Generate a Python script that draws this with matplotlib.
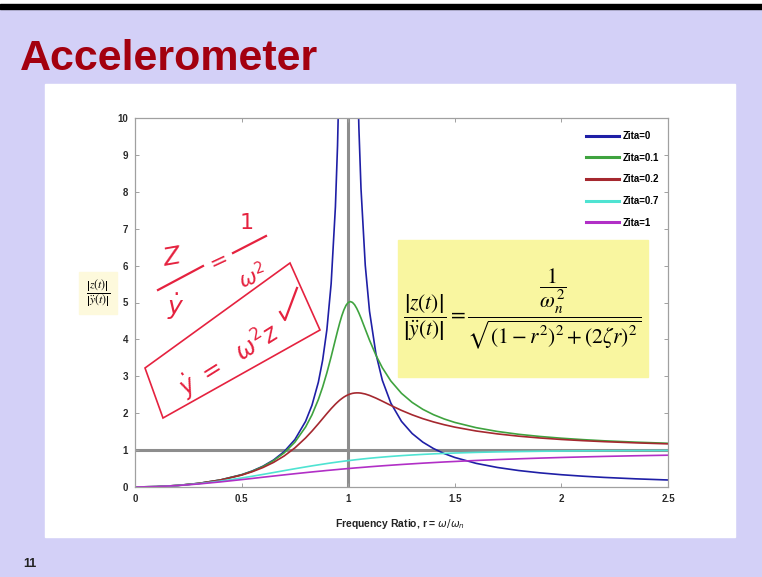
import numpy as np
import matplotlib
matplotlib.use('Agg')
import matplotlib.pyplot as plt
from matplotlib.patches import Rectangle, Polygon
from matplotlib.lines import Line2D

# ---------------- data ----------------
freq_ratio = [0, 0.1, 0.2, 0.3, 0.4, 0.5, 0.55, 0.6, 0.65, 0.7, 0.75, 0.8, 0.83, 0.86,
              0.88, 0.9, 0.92, 0.94, 0.95, 0.96, 0.97, 0.98, 0.99, 1.0, 1.01, 1.02,
              1.03, 1.04, 1.05, 1.06, 1.08, 1.1, 1.13, 1.16, 1.2, 1.25, 1.3, 1.35,
              1.4, 1.45, 1.5, 1.6, 1.7, 1.8, 1.9, 2.0, 2.1, 2.2, 2.35, 2.5]
zita_0 = [0, .010, .042, .099, .190, .333, .434, .563, .732, .961, 1.286, 1.778,
          2.214, 2.840, 3.433, 4.263, 5.510, 7.591, 9.256, 11.755, 15.92, 24.25, 49.25,
          float('nan'), 49.75, 24.75, 16.42, 12.255, 9.756, 8.091, 6.010, 4.762, 3.611,
          2.894, 2.273, 1.778, 1.449, 1.216, 1.042, .907, .800, .641, .529, .446, .383,
          .333, .293, .260, .221, .190]
zita_01 = [0, .010, .042, .099, .190, .330, .428, .553, .714, .927, 1.216, 1.625,
           1.954, 2.370, 2.706, 3.095, 3.531, 3.996, 4.226, 4.444, 4.639, 4.802, 4.925,
           5.000, 5.025, 5.002, 4.939, 4.841, 4.718, 4.579, 4.278, 3.979, 3.573, 3.233,
           2.873, 2.538, 2.292, 2.105, 1.960, 1.844, 1.750, 1.608, 1.505, 1.428, 1.369,
           1.322, 1.284, 1.252, 1.215, 1.185]
zita_02 = [0, .010, .042, .098, .187, .322, .414, .527, .667, .842, 1.060, 1.329,
           1.514, 1.714, 1.852, 1.990, 2.123, 2.245, 2.300, 2.352, 2.397, 2.438, 2.472,
           2.500, 2.522, 2.538, 2.547, 2.551, 2.550, 2.544, 2.520, 2.482, 2.409, 2.326,
           2.211, 2.076, 1.956, 1.852, 1.764, 1.688, 1.623, 1.518, 1.439, 1.377, 1.328,
           1.288, 1.256, 1.229, 1.196, 1.169]
zita_07 = [0, .010, .040, .090, .159, .244, .291, .341, .392, .444, .495, .544,
           .573, .600, .618, .636, .653, .669, .677, .685, .692, .700, .707,
           .714, .721, .728, .735, .742, .748, .755, .767, .779, .795, .810,
           .829, .850, .868, .884, .898, .910, .921, .938, .951, .961, .969,
           .975, .980, .983, .988, .991]
zita_1 = [0, .010, .039, .083, .138, .200, .232, .265, .297, .329, .360, .390,
          .408, .425, .436, .448, .458, .469, .474, .480, .485, .490, .495,
          .500, .505, .510, .515, .520, .524, .529, .538, .548, .561, .574,
          .590, .610, .628, .646, .662, .678, .692, .719, .743, .764, .783,
          .800, .815, .829, .847, .862]
series_labels = ['Zita=0', 'Zita=0.1', 'Zita=0.2', 'Zita=0.7', 'Zita=1']
series_colors = ['#1f1fa6', '#3fa33f', '#a5282f', '#4fe3d2', '#b12fc6']
x_ticks = [0, 0.5, 1, 1.5, 2, 2.5]
x_ticklabels = ['0', '0.5', '1', '1.5', '2', '2.5']
y_ticks = [0, 1, 2, 3, 4, 5, 6, 7, 8, 9, 10]

# ---------------- layout helpers ----------------
W, H = 762, 577
def fx(x):
    return x / W
def fy(y):
    return 1 - y / H

fig = plt.figure(figsize=(W / 100, H / 100), dpi=100)
fig.patch.set_facecolor('#d3d0f7')

fig.add_artist(Rectangle((0, fy(4)), 1, 4 / H, transform=fig.transFigure,
                         color='white', zorder=0))
fig.add_artist(Rectangle((0, fy(9)), 1, 5 / H, transform=fig.transFigure,
                         color='black', zorder=0))
fig.add_artist(Rectangle((fx(45), fy(537)), fx(735) - fx(45), (537 - 84) / H,
                         transform=fig.transFigure, color='white', zorder=0))

narrow = ['Liberation Sans Narrow', 'Liberation Sans', 'DejaVu Sans']
fig.text(fx(20), fy(70), 'Accelerometer', fontsize=31, fontweight='bold',
         color='#a3000f', family=narrow, va='baseline', ha='left')

# ---------------- axes ----------------
ax = fig.add_axes([fx(135), fy(487), 533 / W, 369 / H])
ax.set_facecolor('white')
ax.axhline(1, color='#8d8d8d', lw=2.2, zorder=1)
ax.axvline(1, color='#8d8d8d', lw=2.2, zorder=1)
for vals, lab, col in zip([zita_0, zita_01, zita_02, zita_07, zita_1],
                          series_labels, series_colors):
    ax.plot(freq_ratio, vals, color=col, lw=1.2, label=lab, zorder=2)
ax.set_xlim(0, 2.5)
ax.set_ylim(0, 10)
ax.set_xticks(x_ticks)
ax.set_xticklabels(x_ticklabels)
ax.set_yticks(y_ticks)
for s in ax.spines.values():
    s.set_color('#a0a0a0')
    s.set_linewidth(0.9)
ax.tick_params(direction='in', length=3, width=0.7, color='#a0a0a0',
               top=True, right=True, labelsize=7, labelcolor='#2a2a2a', pad=5)
for t in ax.get_xticklabels() + ax.get_yticklabels():
    t.set_fontweight('bold')
    t.set_family(narrow)

leg = ax.legend(loc='upper left', bbox_to_anchor=(fx(586), fy(131)),
                bbox_transform=fig.transFigure, frameon=False, fontsize=7,
                handlelength=3.4, handletextpad=0.4, labelspacing=1.2,
                borderaxespad=0, borderpad=0)
for t in leg.get_texts():
    t.set_fontweight('bold')
    t.set_family(narrow)
for l in leg.get_lines():
    l.set_linewidth(2.2)

fig.text(fx(400), fy(527), r'Frequency Ratio, r = $\omega/\omega_n$', fontsize=7.5,
         fontweight='bold', family=narrow, ha='center', va='baseline', color='#222222')

# y label box
fig.add_artist(Rectangle((fx(79), fy(314)), 38 / W, 42 / H, transform=fig.transFigure,
                         color='#fdf9dc', zorder=1))
fig.text(fx(98), fy(293), r'$\dfrac{\left|z(t)\right|}{\left|\ddot{y}(t)\right|}$',
         fontsize=8.5, math_fontfamily='stix', ha='center', va='center', zorder=3)

# formula box
fig.add_artist(Rectangle((fx(398), fy(377)), 250 / W, 137 / H, transform=fig.transFigure,
                         color='#f9f6a0', zorder=3))
fig.text(fx(522), fy(309),
         r'$\dfrac{\left|z(t)\right|}{\left|\ddot{y}(t)\right|} = \dfrac{\dfrac{1}{\omega_n^2}}{\sqrt{(1-r^2)^2+(2\zeta r)^2}}$',
         fontsize=15.5, math_fontfamily='stix', ha='center', va='center', zorder=4)

# handwritten annotation
red = '#e5223f'
def poly(pts, **kw):
    return Polygon([(fx(a), fy(b)) for a, b in pts], closed=True, fill=False,
                   transform=fig.transFigure, **kw)
def line(pts, **kw):
    return Line2D([fx(a) for a, b in pts], [fy(b) for a, b in pts],
                  transform=fig.transFigure, **kw)
fig.add_artist(poly([(145, 368), (290, 263), (320, 330), (163, 418)],
                    edgecolor=red, lw=1.2, zorder=5))
fig.add_artist(line([(158, 290), (203, 266)], color=red, lw=1.6, zorder=5))
fig.add_artist(line([(233, 253), (266, 236)], color=red, lw=1.6, zorder=5))
fig.text(fx(172), fy(258), 'Z', fontsize=18, color=red, style='italic',
         ha='center', va='center', zorder=5, rotation=10)
fig.text(fx(176), fy(307), r'$\dot{y}$', fontsize=18, color=red,
         ha='center', va='center', zorder=5)
fig.text(fx(219), fy(261), '=', fontsize=16, color=red, ha='center', va='center',
         rotation=25, zorder=5)
fig.text(fx(247), fy(223), '1', fontsize=16, color=red, ha='center', va='center',
         zorder=5)
fig.text(fx(252), fy(276), r'$\omega^2$', fontsize=15, color=red, ha='center',
         va='center', zorder=5, rotation=20)
fig.text(fx(230), fy(360), r'$\dot{y}\ =\ \ \omega^2 z$', fontsize=17, color=red,
         ha='center', va='center', rotation=32, zorder=5)
fig.add_artist(line([(280, 312), (285, 320), (297, 288)], color=red, lw=1.6, zorder=5))

fig.text(fx(23), fy(567), '11', fontsize=9, fontweight='bold', color='#222222',
         family=narrow, va='baseline')

fig.savefig('out.png', dpi=100, facecolor=fig.get_facecolor())
